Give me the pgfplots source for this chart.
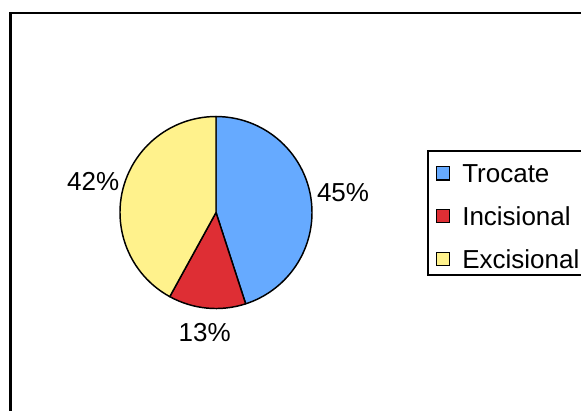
\documentclass[border=0pt]{standalone}
\usepackage{pgfplots}
\pgfplotsset{compat=1.18}
\usepackage{fontspec}
\setmainfont{Liberation Sans}
\definecolor{trocate}{RGB}{102,170,255}
\definecolor{incisional}{RGB}{222,46,52}
\definecolor{excisional}{RGB}{255,242,140}
\newcommand\chartfont{\fontsize{19.5pt}{23pt}\selectfont}
\begin{document}
\begin{tikzpicture}[x=1pt,y=1pt]
\useasboundingbox (0,0) rectangle (435.75,307.5);
\clip (0,0) rectangle (435.75,307.5);
% chart area frame
\draw[line width=2pt] (7.9,-10) -- (7.9,297.75) -- (450,297.75);
\begin{axis}[at={(162pt,148.1pt)}, anchor=center, x=72pt, y=72pt,
  xmin=-1.5, xmax=1.5, ymin=-1.5, ymax=1.5, hide axis, clip=false]
% slices: share (percent) / colour / label distance, clockwise from 12 o'clock
\xdef\startangle{90}
\foreach \val/\col/\dist in {45/trocate/1.34,13/incisional/1.26,42/excisional/1.32}{
  \pgfmathsetmacro\endangle{\startangle-3.6*\val}
  \pgfmathsetmacro\midangle{(\startangle+\endangle)/2}
  \edef\slice{%
    \noexpand\filldraw[fill=\col, draw=black, line width=1.1pt, line join=round]
      (axis cs:0,0) -- ++(\startangle:72pt)
      arc[start angle=\startangle, end angle=\endangle, radius=72pt] -- cycle;
    \noexpand\node[font=\noexpand\chartfont, inner sep=0pt]
      at (axis cs:{\dist*cos(\midangle)},{\dist*sin(\midangle)}) {\val\noexpand\%};}
  \slice
  \xdef\startangle{\endangle}
}
\end{axis}
% legend
\draw[line width=1.5pt] (450,194) -- (321,194) -- (321,101) -- (450,101);
\foreach \y/\col/\txt in {177.4/trocate/Trocate,145.5/incisional/Incisional,113.25/excisional/Excisional}{
  \filldraw[fill=\col, draw=black, line width=1pt] (327.2,\y-5) rectangle (337.2,\y+5);
  \node[anchor=west, inner sep=0pt, font=\chartfont] at (346.5,\y) {\txt};
}
\end{tikzpicture}
\end{document}
